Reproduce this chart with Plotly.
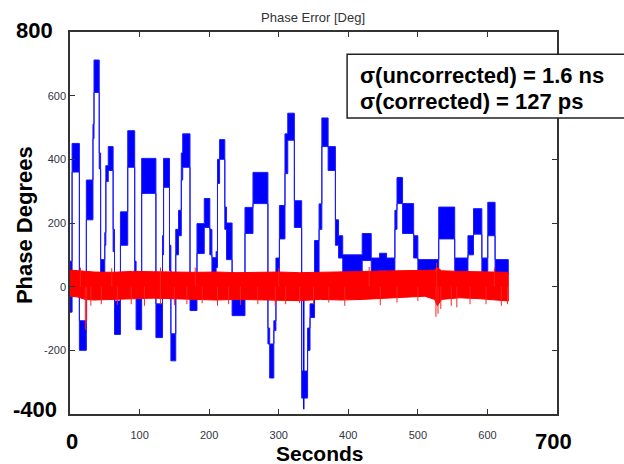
import plotly.graph_objects as go

# ---------------- data ----------------
# Uncorrected phase (blue): piecewise plateaus, start time [s], band low / high [deg]
blue_start = [0, 3, 13.5, 23.5, 33, 34.5, 42, 44, 50, 51.5, 55, 62, 64, 72.5, 83, 93, 95,
              103, 123.5, 133, 134.5, 143, 145, 152, 156, 160, 162, 172.5, 182.5, 193,
              201, 204, 210, 212, 215, 222.5, 225, 233, 251.5, 263, 284.5, 287, 293, 296,
              301, 309, 313, 322.5, 333, 341.5, 345, 351.5, 358, 362, 371, 381.5, 386,
              392, 420, 433, 445, 455, 467, 470, 478, 494, 500, 530, 553, 572, 580, 592,
              600.5, 611]
blue_lo = [-80, 360, -200, 210, 465, 610, 370, 35, 130, 330, 365, 110, -150, 130, 375, 30, -135,
           293, -160, 100, 312, 50, -233, 100, 160, 335, 375, -75, 104, 186,
           100, 41, 60, 324, 400, 180, 85, -91, 167, 261, -180, -287, -138, 40,
           150, 355, 460, 186, -350, -200, -97, 40, 180, 440, 365, 130, 90,
           35, 82, 30, 50, 30, 180, 261, 167, 90, 35, 150, 35, 100, 165, 35,
           160, 40]
blue_hi = [80, 450, -107, 335, 510, 712, 420, 85, 170, 380, 440, 180, -45, 235, 490, 80, -30,
           403, -54, 160, 403, 130, -148, 180, 240, 420, 480, -22, 198, 277,
           180, 91, 110, 400, 462, 250, 200, -35, 249, 359, -130, -180, -107, 90,
           255, 480, 545, 270, -265, -130, -54, 145, 260, 530, 440, 210, 160,
           100, 167, 90, 105, 90, 240, 343, 261, 160, 85, 250, 90, 160, 245, 90,
           265, 85]
blue_end = 630
blue_spike_t = [336]
blue_spike_v = [-385]

# Corrected phase (red): noise band envelope
red_t = [0, 10, 22, 35, 60, 90, 120, 150, 180, 210, 240, 270, 300, 330, 360, 390, 420,
         450, 480, 510, 524, 528, 534, 560, 590, 615, 630]
red_hi = [52, 50, 48, 46, 45, 48, 47, 45, 45, 46, 44, 45, 46, 44, 45, 46, 48,
          48, 50, 50, 52, 60, 50, 48, 47, 46, 45]
red_lo = [-30, -32, -40, -42, -40, -38, -36, -40, -40, -42, -40, -40, -42, -44, -40, -42, -40,
          -38, -34, -30, -40, -60, -40, -35, -38, -42, -45]
red_spike_t = [22, 24, 30, 45, 68, 88, 107, 130, 150, 168, 190, 212, 228, 245, 270, 295, 310,
               330, 350, 372, 395, 446, 470, 500, 526, 529, 533, 548, 556, 575, 598, 620, 629,
               15, 60, 130, 180, 300, 430, 527, 610]
red_spike_v = [-135, -110, -60, -55, -58, -55, -60, -55, -58, -55, -52, -60, -55, -58, -55, -60, -55,
               -52, -55, -50, -60, -58, -50, -45, -95, -85, -70, -60, -65, -55, -55, -60, -55,
               60, 58, 60, 60, 58, 62, 75, 60]

x_tick_vals = [0, 100, 200, 300, 400, 500, 600, 700]
x_tick_text = ["", "100", "200", "300", "400", "500", "600", ""]
y_tick_vals = [-400, -200, 0, 200, 400, 600, 800]
y_tick_text = ["", "-200", "0", "200", "400", "600", ""]

title_text = "Phase Error [Deg]"
stats_lines = ["σ(uncorrected) = 1.6 ns", "σ(corrected) = 127 ps"]


# ---------------- helpers ----------------
def step_band(starts, end, lo, hi):
    ends = list(starts[1:]) + [end]
    xs, ys = [], []
    for s, e, h in zip(starts, ends, hi):
        xs += [s, e]
        ys += [h, h]
    for s, e, l in reversed(list(zip(starts, ends, lo))):
        xs += [e, s]
        ys += [l, l]
    xs.append(xs[0])
    ys.append(ys[0])
    return xs, ys


def env_band(t, lo, hi):
    xs = list(t) + list(reversed(t)) + [t[0]]
    ys = list(hi) + list(reversed(lo)) + [hi[0]]
    return xs, ys


def spikes(ts, vs):
    xs, ys = [], []
    for t, v in zip(ts, vs):
        xs += [t, t, None]
        ys += [0, v, None]
    return xs, ys


fig = go.Figure()

bx, by = step_band(blue_start, blue_end, blue_lo, blue_hi)
fig.add_trace(go.Scatter(x=bx, y=by, mode="lines", fill="toself",
                         fillcolor="#0000ff", line=dict(color="#1a1aff", width=1),
                         hoverinfo="skip", showlegend=False))
sx, sy = spikes(blue_spike_t, blue_spike_v)
fig.add_trace(go.Scatter(x=sx, y=sy, mode="lines", line=dict(color="#0000ff", width=1.5),
                         hoverinfo="skip", showlegend=False))

rx, ry = env_band(red_t, red_lo, red_hi)
fig.add_trace(go.Scatter(x=rx, y=ry, mode="lines", fill="toself",
                         fillcolor="#ff0000", line=dict(color="#ff0000", width=1),
                         hoverinfo="skip", showlegend=False))
sx, sy = spikes(red_spike_t, red_spike_v)
fig.add_trace(go.Scatter(x=sx, y=sy, mode="lines", line=dict(color="#ff2020", width=1),
                         hoverinfo="skip", showlegend=False))

axis_common = dict(showline=True, linecolor="#333333", linewidth=1.5, mirror="ticks",
                   ticks="inside", ticklen=5, tickcolor="#333333", showgrid=False,
                   zeroline=False, tickfont=dict(size=11, color="#333344",
                                                 family="Liberation Sans, Arial"))

fig.update_xaxes(range=[0, 700], tickvals=x_tick_vals, ticktext=x_tick_text,
                 ticklabelstandoff=10, **axis_common)
fig.update_yaxes(range=[-400, 800], tickvals=y_tick_vals, ticktext=y_tick_text,
                 **axis_common)

bold = dict(family="Liberation Sans, Arial", size=22, color="#000000")


def note(text, x, y, font, xanchor="center", **kw):
    return dict(text=text, x=x, y=y, xref="paper", yref="paper", showarrow=False,
                xanchor=xanchor, yanchor="middle", font=font, **kw)


ann = [
    note(title_text, 0.499, 1.037, dict(family="Liberation Sans, Arial", size=13, color="#333333")),
    note("<b>800</b>", -0.072, 1.005, bold),
    note("<b>-400</b>", -0.072, 0.0105, bold),
    note("<b>0</b>", 0.004, -0.071, bold),
    note("<b>700</b>", 0.992, -0.071, bold),
    note("<b>Seconds</b>", 0.513, -0.103, dict(family="Liberation Sans, Arial", size=21, color="#000000")),
    note("<b>Phase Degrees</b>", -0.092, 0.495, bold, textangle=-90),
    note("<b>" + stats_lines[0] + "</b>", 0.591, 0.887, bold, xanchor="left"),
    note("<b>" + stats_lines[1] + "</b>", 0.591, 0.819, bold, xanchor="left"),
]

fig.update_layout(
    width=624, height=464,
    margin=dict(l=70, r=67, t=32, b=50),
    paper_bgcolor="white", plot_bgcolor="white",
    annotations=ann,
    shapes=[dict(type="rect", xref="paper", yref="paper", x0=0.569, x1=1.15, y0=0.775, y1=0.942,
                 fillcolor="white", line=dict(color="#222222", width=1.5), layer="above")],
    showlegend=False,
)

fig.write_html("out.html", config={"displayModeBar": False},
               post_script="document.body.style.margin='0px';")
